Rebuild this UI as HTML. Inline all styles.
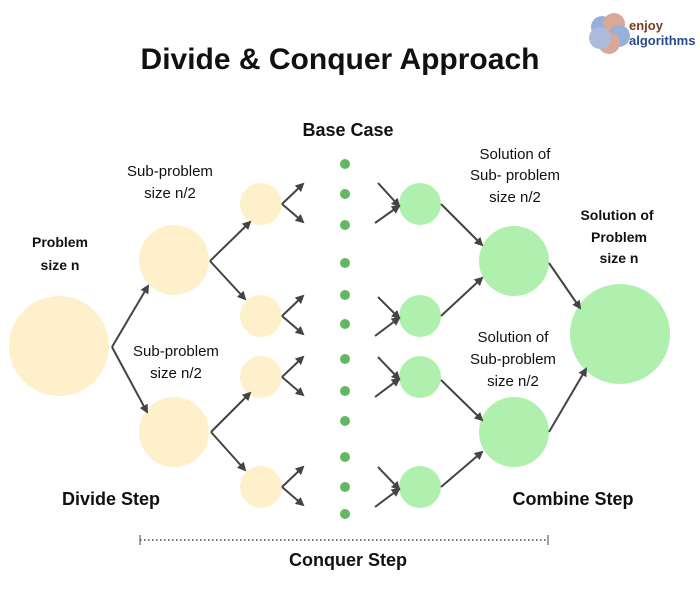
<!DOCTYPE html>
<html><head><style>
body{margin:0;background:#fff;}
svg text{font-family:"Liberation Sans",Arial,sans-serif;fill:#111;}
</style></head><body>
<svg width="700" height="586" viewBox="0 0 700 586" xmlns="http://www.w3.org/2000/svg">
<defs>
<marker id="a" markerWidth="9" markerHeight="9" refX="7" refY="4.5" orient="auto" markerUnits="userSpaceOnUse">
<path d="M0,0 L9,4.5 L0,9 z" fill="#444"/></marker>
</defs>
<g opacity="0.7">
<circle cx="602" cy="27" r="11" fill="#6b8fc9"/><circle cx="614" cy="24" r="11" fill="#c9866b"/>
<circle cx="619" cy="36" r="11" fill="#6b8fc9"/><circle cx="609" cy="43" r="11" fill="#c9866b"/>
<circle cx="600" cy="38" r="11" fill="#8a9fd0"/>
</g>
<text x="629" y="30" font-size="13" font-weight="bold" style="fill:#7a3b1e">enjoy</text>
<text x="629" y="45" font-size="13" font-weight="bold" style="fill:#274b8a">algorithms</text>

<text x="340" y="69" font-size="30" font-weight="bold" text-anchor="middle">Divide &amp; Conquer Approach</text>
<text x="348" y="136" font-size="18" font-weight="bold" text-anchor="middle">Base Case</text>

<text x="60" y="247" font-size="14" font-weight="bold" text-anchor="middle">Problem</text>
<text x="60" y="270" font-size="14" font-weight="bold" text-anchor="middle">size n</text>
<text x="170" y="176" font-size="15" text-anchor="middle">Sub-problem</text>
<text x="170" y="198" font-size="15" text-anchor="middle">size n/2</text>
<text x="176" y="356" font-size="15" text-anchor="middle">Sub-problem</text>
<text x="176" y="378" font-size="15" text-anchor="middle">size n/2</text>
<text x="515" y="159" font-size="15" text-anchor="middle">Solution of</text>
<text x="515" y="180" font-size="15" text-anchor="middle">Sub- problem</text>
<text x="515" y="202" font-size="15" text-anchor="middle">size n/2</text>
<text x="513" y="342" font-size="15" text-anchor="middle">Solution of</text>
<text x="513" y="364" font-size="15" text-anchor="middle">Sub-problem</text>
<text x="513" y="386" font-size="15" text-anchor="middle">size n/2</text>
<text x="617" y="220" font-size="14" font-weight="bold" text-anchor="middle">Solution of</text>
<text x="619" y="242" font-size="14" font-weight="bold" text-anchor="middle">Problem</text>
<text x="619" y="263" font-size="14" font-weight="bold" text-anchor="middle">size n</text>
<text x="111" y="505" font-size="18" font-weight="bold" text-anchor="middle">Divide Step</text>
<text x="573" y="505" font-size="18" font-weight="bold" text-anchor="middle">Combine Step</text>
<text x="348" y="566" font-size="18" font-weight="bold" text-anchor="middle">Conquer Step</text>
<line x1="140" y1="540" x2="548" y2="540" stroke="#444" stroke-width="1.5" stroke-dasharray="1.5,2.5"/>
<line x1="140" y1="535" x2="140" y2="545" stroke="#444"/>
<line x1="548" y1="535" x2="548" y2="545" stroke="#444"/>

<g fill="#fff0cc">
<circle cx="59" cy="346" r="50"/>
<circle cx="174" cy="260" r="35"/><circle cx="174" cy="432" r="35"/>
<circle cx="261" cy="204" r="21"/><circle cx="261" cy="316" r="21"/>
<circle cx="261" cy="377" r="21"/><circle cx="261" cy="487" r="21"/>
</g>
<g fill="#b0f0ae">
<circle cx="620" cy="334" r="50"/>
<circle cx="514" cy="261" r="35"/><circle cx="514" cy="432" r="35"/>
<circle cx="420" cy="204" r="21"/><circle cx="420" cy="316" r="21"/>
<circle cx="420" cy="377" r="21"/><circle cx="420" cy="487" r="21"/>
</g>
<g fill="#62b862">
<circle cx="345" cy="164" r="5"/><circle cx="345" cy="194" r="5"/><circle cx="345" cy="225" r="5"/>
<circle cx="345" cy="263" r="5"/><circle cx="345" cy="295" r="5"/><circle cx="345" cy="324" r="5"/>
<circle cx="345" cy="359" r="5"/><circle cx="345" cy="391" r="5"/><circle cx="345" cy="421" r="5"/>
<circle cx="345" cy="457" r="5"/><circle cx="345" cy="487" r="5"/><circle cx="345" cy="514" r="5"/>
</g>
<g stroke="#444" stroke-width="2" fill="none" marker-end="url(#a)">
<path d="M112,347 L148,286"/><path d="M112,347 L147,412"/>
<path d="M210,261 L250,222"/><path d="M210,261 L245,299"/>
<path d="M211,432 L250,393"/><path d="M211,432 L245,470"/>
<path d="M282,204 L303,184"/><path d="M282,204 L303,222"/>
<path d="M282,316 L303,296"/><path d="M282,316 L303,334"/>
<path d="M282,377 L303,357"/><path d="M282,377 L303,395"/>
<path d="M282,487 L303,467"/><path d="M282,487 L303,505"/>
<path d="M378,183 L399,206"/><path d="M375,223 L399,206"/>
<path d="M378,297 L399,318"/><path d="M375,336 L399,318"/>
<path d="M378,357 L399,379"/><path d="M375,397 L399,379"/>
<path d="M378,467 L399,489"/><path d="M375,507 L399,489"/>
<path d="M441,204 L482,245"/><path d="M441,316 L482,278"/>
<path d="M441,380 L482,420"/><path d="M441,487 L482,452"/>
<path d="M549,263 L580,308"/><path d="M549,432 L586,369"/>
</g>
</svg>
</body></html>
